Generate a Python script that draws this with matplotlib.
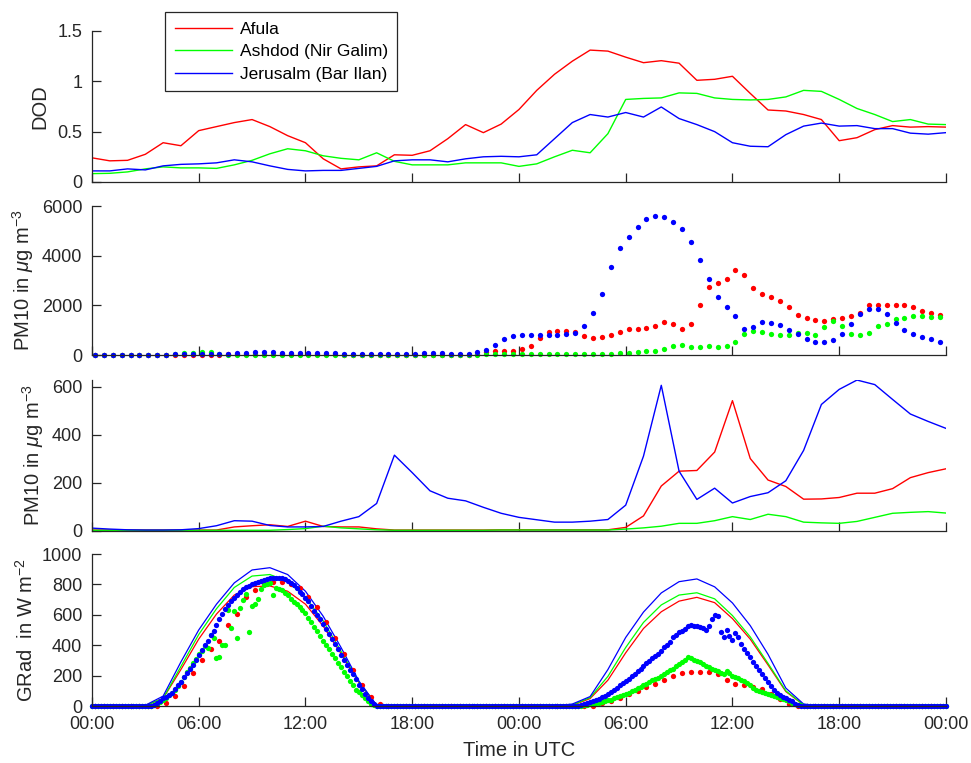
import numpy as np
import matplotlib
matplotlib.use('Agg')
import matplotlib.pyplot as plt

plt.rcParams['font.family'] = ['Liberation Sans', 'DejaVu Sans']
plt.rcParams['mathtext.fontset'] = 'custom'
plt.rcParams['mathtext.rm'] = 'Liberation Sans'
plt.rcParams['mathtext.it'] = 'Liberation Sans:italic'

# ---- data -------------------------------------------------------------
stations = ['Afula', 'Ashdod (Nir Galim)', 'Jerusalm (Bar Ilan)']
tick_labels = ['00:00', '06:00', '12:00', '18:00', '00:00', '06:00', '12:00', '18:00', '00:00']

# DOD, hourly (00:00 day 1 ... 00:00 day 3)
dod_afula = [0.24, 0.21, 0.215, 0.275, 0.39, 0.36, 0.51, 0.55, 0.59, 0.62, 0.55, 0.46,
             0.39, 0.23, 0.13, 0.15, 0.16, 0.27, 0.265, 0.31, 0.43, 0.57, 0.49, 0.575,
             0.72, 0.91, 1.07, 1.20, 1.31, 1.30, 1.24, 1.185, 1.205, 1.18, 1.01, 1.02,
             1.05, 0.88, 0.715, 0.705, 0.67, 0.62, 0.41, 0.44, 0.52, 0.56, 0.545, 0.55, 0.545]
dod_ashdod = [0.083, 0.086, 0.10, 0.13, 0.15, 0.14, 0.14, 0.135, 0.17, 0.215, 0.28, 0.33,
              0.31, 0.26, 0.235, 0.22, 0.29, 0.205, 0.17, 0.17, 0.17, 0.19, 0.19, 0.19,
              0.155, 0.18, 0.25, 0.315, 0.29, 0.48, 0.82, 0.83, 0.835, 0.885, 0.88, 0.835,
              0.82, 0.815, 0.82, 0.845, 0.91, 0.90, 0.82, 0.73, 0.67, 0.60, 0.62, 0.575, 0.57]
dod_jerus = [0.11, 0.11, 0.13, 0.12, 0.16, 0.175, 0.18, 0.19, 0.22, 0.20, 0.16, 0.125,
             0.11, 0.115, 0.115, 0.135, 0.155, 0.21, 0.22, 0.22, 0.20, 0.23, 0.25, 0.255,
             0.25, 0.27, 0.43, 0.59, 0.67, 0.645, 0.69, 0.645, 0.745, 0.63, 0.57, 0.50,
             0.39, 0.355, 0.35, 0.47, 0.555, 0.585, 0.555, 0.56, 0.53, 0.53, 0.485, 0.475, 0.49]

# PM10 measured, half-hourly (first at 00:10)
pm_afula = [10, 10, 10, 10, 10, 10, 10, 10, 10, 10, 20, 20, 20, 20, 20, 60, 50, 30, 30, 30,
            30, 30, 30, 30, 30, 30, 30, 30, 20, 20, 20, 20, 20, 20, 20, 20, 20, 20, 20, 20,
            20, 20, 20, 40, 120, 175,
            175, 175, 230, 375, 670, 940, 955, 965, 940, 780, 685, 710, 805, 925, 1035, 1060,
            1085, 1155, 1340, 1235, 1035, 1235, 2000, 2740, 2885, 3045, 3410, 3205, 2685, 2440,
            2350, 2190, 1920, 1625, 1490, 1420, 1380, 1450, 1490, 1570, 1690, 2015, 2025, 2015,
            2015, 2000, 1920, 1785, 1680, 1610]
pm_ashdod = [10, 10, 10, 10, 10, 10, 10, 10, 10, 40, 65, 80, 105, 135, 60, 20, 20, 20, 20, 20,
             20, 20, 20, 20, 20, 20, 20, 20, 20, 20, 20, 20, 20, 20, 20, 20, 20, 20, 20, 20,
             20, 20, 20, 20, 40, 40,
             40, 40, 40, 25, 25, 25, 25, 25, 25, 40, 40, 55, 55, 65, 95, 135, 175, 160, 240, 360,
             390, 335, 335, 350, 310, 360, 525, 860, 980, 925, 845, 790, 805, 885, 885, 820,
             1140, 1370, 1155, 830, 805, 885, 1170, 1235, 1450, 1490, 1555, 1555, 1515, 1515]
pm_jerus = [20, 20, 20, 20, 20, 20, 20, 20, 20, 30, 30, 30, 40, 40, 40, 40, 70, 90, 120, 120,
            110, 100, 100, 100, 90, 90, 90, 80, 60, 50, 50, 50, 50, 50, 50, 50, 60, 70, 80, 80,
            60, 60, 60, 110, 215, 415,
            645, 765, 805, 820, 805, 805, 805, 845, 885, 1170, 1680, 2455, 3555, 4295, 4740, 5140,
            5460, 5610, 5570, 5355, 5060, 4550, 3810, 3045, 2320, 1945, 1585, 1060, 1130, 1315,
            1275, 1195, 1005, 830, 630, 535, 535, 615, 830, 1235, 1650, 1840, 1850, 1635, 1275,
            995, 830, 725, 630, 535]

# PM10 model, hourly
pmm_afula = [2, 2, 2, 2, 2, 2, 2, 2, 15, 20, 24, 17, 39, 17, 15, 15, 7, 2, 2, 2, 2, 2, 2, 3,
             3, 3, 3, 3, 3, 3, 13, 61, 186, 248, 251, 328, 543, 301, 211, 184, 131, 132, 138,
             156, 156, 175, 221, 242, 258]
pmm_ashdod = [1, 1, 1, 1, 1, 1, 1, 1, 1, 1, 1, 4, 8, 18, 11, 7, 3, 1, 1, 1, 1, 1, 1, 2,
              2, 2, 2, 2, 2, 2, 6, 11, 18, 30, 30, 41, 58, 46, 68, 58, 35, 32, 30, 38, 55,
              72, 76, 79, 73]
pmm_jerus = [10, 6, 3, 2, 2, 3, 8, 20, 41, 39, 21, 15, 15, 17, 39, 58, 113, 315, 242, 166,
             135, 124, 97, 72, 55, 45, 35, 35, 39, 46, 106, 311, 607, 248, 130, 177, 115, 142,
             158, 208, 335, 527, 590, 629, 610, 548, 487, 456, 427]

# GRad model (clear lines), hourly
gm_afula = [0, 0, 0, 3, 50, 240, 440, 605, 730, 785, 790, 755, 670, 525, 345, 155, 5,
            0, 0, 0, 0, 0, 0, 0, 0, 0, 0,
            4, 49, 170, 350, 510, 620, 690, 715, 680, 575, 440, 270, 95, 7,
            0, 0, 0, 0, 0, 0, 0, 0]
gm_ashdod = [0, 0, 0, 3, 50, 260, 470, 640, 780, 855, 865, 820, 715, 560, 360, 160, 5,
             0, 0, 0, 0, 0, 0, 0, 0, 0, 0,
             7, 55, 195, 385, 550, 665, 730, 745, 705, 595, 455, 280, 100, 7,
             0, 0, 0, 0, 0, 0, 0, 0]
gm_jerus = [0, 0, 0, 5, 65, 290, 500, 670, 810, 895, 910, 865, 755, 590, 385, 165, 5,
            0, 0, 0, 0, 0, 0, 0, 0, 0, 0,
            13, 62, 240, 451, 618, 744, 818, 836, 784, 678, 529, 340, 118, 13,
            0, 0, 0, 0, 0, 0, 0, 0]

# GRad measured, Afula half-hourly (first at 00:10)
gr_afula_day1 = [22, 68, 133, 218, 300, 373, 425, 533, 605, 718, 760, 800, 818, 815, 805,
                 778, 715, 650, 553, 445, 340, 235, 136, 62, 13]
gr_afula_day2 = [3, 18, 36, 53, 76, 100, 124, 148, 173, 198, 218, 226, 226, 222, 212,
                 168, 148, 135, 128, 110, 82, 45, 15, 2]
gr_afula = [0] * 8 + gr_afula_day1 + [0] * 23 + gr_afula_day2 + [0] * 16

# GRad measured, Ashdod and Jerusalem 10-min (day parts 03:00-16:10 / 03:00-16:10)
gr_ashdod_day1 = [0, 0, 2, 8, 16, 28,
                  42, 55, 70, 85, 105, 130,
                  158, 190, 222, 250, 280, 310,
                  340, 365, 395, 380, 470, 450,
                  318, 320, 400, 400, 630, 510,
                  625, 447, 645, 700, 740, 490,
                  660, 668, 702, 770, 795, 805,
                  808, 728, 778, 770, 762, 742,
                  728, 705, 685, 668, 652, 632,
                  612, 582, 552, 522, 492, 458,
                  430, 402, 375, 345, 315, 285,
                  255, 225, 195, 165, 135, 108,
                  95, 72, 50, 32, 15, 4,
                  0, 0]
gr_ashdod_day2 = [0, 0, 0, 2, 5, 8,
                  11, 15, 18, 23, 28, 33,
                  37, 42, 50, 57, 64, 72,
                  80, 88, 97, 108, 118, 128,
                  138, 148, 160, 168, 175, 185,
                  198, 210, 222, 235, 245, 262,
                  275, 292, 305, 325, 318, 305,
                  298, 290, 275, 265, 255, 245,
                  235, 228, 215, 212, 228, 215,
                  200, 190, 182, 172, 165, 152,
                  135, 118, 105, 97, 92, 86,
                  80, 72, 65, 58, 50, 44,
                  37, 30, 22, 15, 9, 4,
                  0, 0]
gr_jerus_day1 = [0, 0, 2, 8, 18, 32,
                 50, 62, 74, 88, 110, 135,
                 160, 190, 220, 245, 270, 300,
                 335, 370, 400, 430, 465, 495,
                 535, 570, 605, 640, 665, 690,
                 712, 732, 752, 768, 782, 792,
                 800, 808, 815, 825, 832, 838,
                 842, 844, 845, 844, 840, 833,
                 822, 808, 794, 775, 752, 735,
                 712, 688, 660, 628, 600, 570,
                 540, 508, 475, 440, 408, 372,
                 338, 305, 270, 238, 208, 175,
                 140, 110, 80, 55, 32, 14,
                 3, 0]
gr_jerus_day2 = [0, 0, 3, 8, 14, 19,
                 24, 32, 40, 48, 56, 65,
                 76, 90, 104, 120, 135, 150,
                 163, 178, 195, 210, 228, 245,
                 262, 280, 298, 315, 330, 340,
                 360, 385, 400, 418, 455, 470,
                 488, 495, 505, 525, 530, 528,
                 525, 520, 515, 500, 528, 572,
                 598, 590, 490, 455, 500, 458,
                 432, 480, 455, 410, 378, 350,
                 320, 292, 265, 238, 208, 182,
                 155, 130, 107, 88, 72, 60,
                 50, 40, 30, 15, 8, 2,
                 0, 0]
gr_ashdod = [0] * 18 + gr_ashdod_day1 + [0] * 64 + gr_ashdod_day2 + [0] * 47
gr_jerus = [0] * 18 + gr_jerus_day1 + [0] * 64 + gr_jerus_day2 + [0] * 47

t_hour = np.arange(49)
t_half = 1 / 6 + 0.5 * np.arange(96)
t_10min = np.arange(289) / 6

colors = ['#ff0000', '#00ff00', '#0000ff']
grey = '#262626'

# ---- figure -----------------------------------------------------------
fig = plt.figure(figsize=(9.71, 7.63), dpi=100)
L, W = 0.0947, 0.8795
ax1 = fig.add_axes([L, 0.7615, W, 0.1979])
ax2 = fig.add_axes([L, 0.5347, W, 0.1953])
ax3 = fig.add_axes([L, 0.3047, W, 0.1972])
ax4 = fig.add_axes([L, 0.0747, W, 0.1992])

def style(ax, bottom=False):
    for s in ['top', 'right']:
        ax.spines[s].set_visible(False)
    for s in ['left', 'bottom']:
        ax.spines[s].set_color(grey)
        ax.spines[s].set_linewidth(0.9)
    ax.tick_params(direction='in', length=6.2, width=0.9, colors=grey, labelsize=13)
    ax.tick_params(axis='y', pad=7)
    ax.tick_params(axis='x', pad=7)
    ax.set_xlim(0, 48)
    ax.set_xticks(np.arange(0, 49, 6))
    if bottom:
        ax.set_xticklabels(tick_labels)
    else:
        ax.set_xticklabels([])

dot = dict(ls='none', marker='o', ms=3.8, mec='none', clip_on=False)

# DOD
for y, c, name in zip([dod_afula, dod_ashdod, dod_jerus], colors, stations):
    ax1.plot(t_hour, y, color=c, lw=1.0, label=name)
ax1.set_ylim(0, 1.5)
ax1.set_yticks([0, 0.5, 1, 1.5])
ax1.set_yticklabels(['0', '0.5', '1', '1.5'])
ax1.set_ylabel('DOD', fontsize=14.5, color=grey, labelpad=6)
style(ax1)
leg = ax1.legend(loc='upper left', bbox_to_anchor=(165 / 971, 1 - 12 / 763),
                 bbox_transform=fig.transFigure, borderaxespad=0, fontsize=12.5,
                 fancybox=False, edgecolor=grey, handlelength=3.3, handletextpad=0.45,
                 labelspacing=0.42, borderpad=0.55, framealpha=1)
leg.get_frame().set_linewidth(0.9)

# PM10 measured
for y, c in zip([pm_afula, pm_ashdod, pm_jerus], colors):
    ax2.plot(t_half, y, color=c, **dot)
ax2.set_ylim(0, 6000)
ax2.set_yticks([0, 2000, 4000, 6000])
ax2.set_ylabel(r'PM10 in $\mu$g m$^{\mathrm{-3}}$', fontsize=14.5, color=grey, labelpad=4)
style(ax2)

# PM10 model
for y, c in zip([pmm_afula, pmm_ashdod, pmm_jerus], colors):
    ax3.plot(t_hour, y, color=c, lw=1.0)
ax3.set_ylim(0, max(max(pmm_afula), max(pmm_ashdod), max(pmm_jerus)))
ax3.set_yticks([0, 200, 400, 600])
ax3.set_ylabel(r'PM10 in $\mu$g m$^{\mathrm{-3}}$', fontsize=14.5, color=grey, labelpad=4)
style(ax3)

# GRad
for y, c in zip([gm_afula, gm_ashdod, gm_jerus], colors):
    ax4.plot(t_hour, y, color=c, lw=0.9)
ax4.plot(t_half, gr_afula, color=colors[0], **dot)
ax4.plot(t_10min, gr_ashdod, color=colors[1], **dot)
ax4.plot(t_10min, gr_jerus, color=colors[2], **dot)
ax4.set_ylim(0, 1000)
ax4.set_yticks(np.arange(0, 1001, 200))
ax4.set_ylabel(r'GRad  in W m$^{\mathrm{-2}}$', fontsize=14.5, color=grey, labelpad=4)
ax4.set_xlabel('Time in UTC', fontsize=14.5, color=grey, labelpad=6)
style(ax4, bottom=True)

fig.savefig('out.png', dpi=100)
